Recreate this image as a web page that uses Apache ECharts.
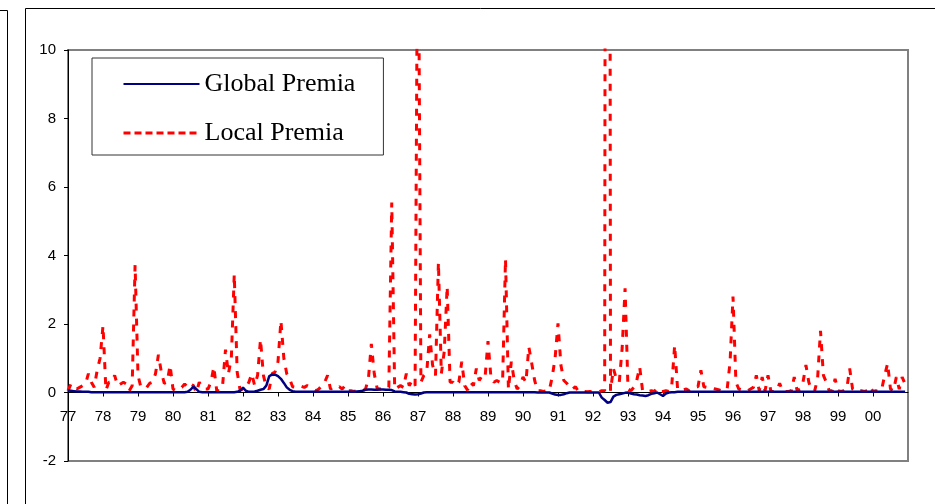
<!DOCTYPE html>
<html><head><meta charset="utf-8">
<script src="https://cdn.jsdelivr.net/npm/echarts@6/dist/echarts.min.js"></script>
<style>html,body{margin:0;padding:0;background:#fff}#c{width:935px;height:504px}</style>
</head><body><div id="c"></div>
<script>
// ---- data ----
const startYear = 1977;
const endYear = 2001;
const yearLabels = ['77','78','79','80','81','82','83','84','85','86','87','88','89','90','91','92','93','94','95','96','97','98','99','00'];
const seriesNames = ['Global Premia', 'Local Premia'];
const yMin = -2, yMax = 10, yStep = 2;

// monthly values, Jan 1977 .. Dec 2000 (one row per year)
const globalPremia = [
  0.06,0.05,0.04,0.03,0.03,0.02,0.02,0.02,0.01,0.01,0.01,0.01,
  0.01,0.01,0.01,0.01,0.01,0.01,0.01,0.01,0.01,0.01,0.01,0.01,
  0.01,0.01,0.01,0.01,0.01,0.01,0.01,0.01,0.01,0.01,0.01,0.01,
  0.01,0.01,0.01,0.01,0.01,0.02,0.08,0.17,0.10,0.02,0.01,0.01,
  0.01,0.01,0.01,0.01,0.01,0.01,0.01,0.01,0.01,0.01,0.02,0.05,
  0.14,0.05,0.02,0.02,0.03,0.05,0.08,0.10,0.20,0.48,0.52,0.52,
  0.48,0.40,0.28,0.15,0.08,0.04,0.02,0.02,0.02,0.02,0.02,0.02,
  0.02,0.02,0.02,0.02,0.02,0.02,0.02,0.02,0.02,0.02,0.02,0.02,
  0.02,0.02,0.02,0.03,0.04,0.05,0.08,0.09,0.09,0.08,0.08,0.09,
  0.09,0.08,0.08,0.07,0.03,0.02,0.02,0.01,0.00,-0.04,-0.05,-0.06,
  -0.05,-0.03,0.00,0.01,0.01,0.01,0.01,0.01,0.01,0.01,0.01,0.01,
  0.01,0.01,0.01,0.01,0.01,0.01,0.01,0.01,0.01,0.01,0.01,0.01,
  0.01,0.01,0.01,0.01,0.01,0.01,0.01,0.01,0.01,0.01,0.01,0.01,
  0.01,0.01,0.01,0.01,0.01,0.00,0.00,0.00,0.00,0.00,-0.03,-0.06,
  -0.07,-0.07,-0.05,-0.02,0.00,0.00,0.00,0.00,0.00,0.00,0.00,0.00,
  0.00,0.00,0.00,-0.15,-0.22,-0.30,-0.28,-0.12,-0.07,-0.05,-0.03,-0.01,
  0.00,-0.03,-0.05,-0.06,-0.08,-0.09,-0.10,-0.08,-0.04,-0.02,0.00,-0.05,
  -0.10,-0.03,0.00,0.01,0.01,0.02,0.02,0.02,0.02,0.02,0.02,0.02,
  0.02,0.02,0.02,0.02,0.02,0.02,0.02,0.02,0.02,0.02,0.02,0.02,
  0.02,0.02,0.02,0.02,0.02,0.02,0.02,0.02,0.02,0.02,0.02,0.02,
  0.02,0.02,0.02,0.02,0.02,0.02,0.02,0.02,0.02,0.02,0.02,0.02,
  0.02,0.02,0.02,0.02,0.02,0.02,0.02,0.02,0.02,0.02,0.02,0.02,
  0.02,0.02,0.02,0.02,0.02,0.02,0.02,0.02,0.02,0.02,0.02,0.02,
  0.02,0.02,0.02,0.02,0.02,0.02,0.02,0.02,0.02,0.02,0.02,0.02
];
const localPremia = [
  0.05,0.25,0.15,0.10,0.15,0.20,0.25,0.55,0.30,0.15,0.65,1.00,
  1.95,0.07,0.30,0.30,0.50,0.20,0.25,0.30,0.25,0.05,0.20,3.72,
  0.50,0.15,0.15,0.15,0.27,0.30,0.55,1.10,0.60,0.27,0.30,0.80,
  0.10,0.05,0.10,0.15,0.25,0.15,0.25,0.20,0.00,0.30,0.15,0.10,
  0.10,0.30,0.75,0.05,0.05,0.20,1.25,0.55,1.00,3.45,0.60,0.07,
  0.10,0.15,0.30,0.55,0.20,0.50,1.55,0.50,0.15,0.10,0.55,0.60,
  0.90,2.10,1.00,0.55,0.40,0.17,0.15,0.20,0.18,0.15,0.20,0.15,
  0.10,0.05,0.10,0.20,0.30,0.50,0.10,0.15,0.12,0.17,0.10,0.20,
  0.05,0.05,0.03,0.05,0.05,0.05,0.10,0.40,1.42,0.55,0.12,0.10,
  0.10,0.10,0.15,5.55,0.10,0.15,0.20,0.15,0.55,0.20,0.35,0.20,
  16.0,0.30,0.50,0.60,1.70,0.80,0.50,3.80,0.55,1.20,3.10,0.30,
  0.30,0.20,0.30,0.90,0.20,0.07,0.30,0.20,0.70,0.35,0.50,0.45,
  1.50,0.45,0.30,0.35,0.30,0.30,3.90,0.10,0.90,0.35,0.10,0.20,
  0.45,0.30,1.33,0.85,0.35,0.05,0.05,0.03,0.05,0.05,0.45,1.00,
  2.02,0.80,0.35,0.27,0.12,0.10,0.17,0.03,0.02,0.03,0.02,0.03,
  0.02,0.03,0.02,0.05,0.05,80.0,0.05,0.70,0.40,0.30,1.30,3.04,
  0.10,0.05,0.15,0.35,0.75,0.05,0.03,0.03,0.05,0.03,0.12,0.03,
  0.03,0.05,0.03,0.20,1.38,0.10,0.05,0.08,0.10,0.05,0.12,0.17,
  0.17,0.65,0.17,0.15,0.10,0.12,0.10,0.08,0.05,0.05,0.10,0.90,
  2.80,0.30,0.10,0.08,0.10,0.05,0.10,0.15,0.50,0.05,0.45,0.05,
  0.50,0.03,0.03,0.05,0.27,0.03,0.03,0.03,0.05,0.45,0.05,0.10,
  0.30,0.80,0.30,0.05,0.05,0.40,1.80,0.50,0.30,0.05,0.05,0.40,
  0.05,0.03,0.05,0.10,0.70,0.10,0.03,0.03,0.05,0.03,0.05,0.17,
  0.03,0.05,0.03,0.10,0.50,0.85,0.10,0.05,0.45,0.10,0.45,0.25
];

// ---- chart ----
const gridTop = 50, gridBottom = 43, chartH = 504;
const gridH = chartH - gridTop - gridBottom;
// place the category axis on the zero line of the value axis
const xAxisOffset = -gridH * (0 - yMin) / (yMax - yMin);
const toPairs = arr => arr.map((v, i) => [startYear + i / 12, v]);
const chart = echarts.init(document.getElementById('c'), null, {renderer: 'canvas'});
const axisFont = {fontFamily: 'Liberation Sans, Arial, sans-serif', fontSize: 15, color: '#000'};

chart.setOption({
  animation: false,
  backgroundColor: '#fff',
  graphic: [
    {type: 'polyline', shape: {points: [[0, 10.5], [7.5, 10.5], [7.5, 504]]}, style: {stroke: '#000', lineWidth: 1, fill: null}, silent: true},
    {type: 'rect', shape: {x: 25.5, y: 8.5, width: 1000, height: 1000}, style: {stroke: '#000', lineWidth: 1, fill: null}, silent: true}
  ],
  grid: {left: 68, top: gridTop, right: 27, bottom: gridBottom, show: true, borderColor: '#808080', borderWidth: 2, backgroundColor: 'transparent'},
  legend: {
    orient: 'vertical', left: 92, top: 58,
    padding: [13, 28, 9, 30],
    itemWidth: 76, itemHeight: 24, itemGap: 23,
    borderColor: '#333', borderWidth: 1, backgroundColor: '#fff',
    selectedMode: false,
    itemStyle: {color: 'transparent', borderColor: 'transparent', borderWidth: 0, opacity: 0},
    textStyle: {fontFamily: 'Liberation Serif, Times New Roman, serif', fontSize: 26, color: '#000', lineHeight: 24},
    data: [
      {name: seriesNames[0]},
      {name: seriesNames[1], lineStyle: {type: [7, 4], width: 3, color: '#ff0000'}}
    ]
  },
  xAxis: {
    type: 'value', min: startYear, max: endYear, interval: 1,
    offset: xAxisOffset,
    axisLine: {onZero: false, lineStyle: {color: '#000', width: 1}},
    axisTick: {show: true, inside: false, length: 4, lineStyle: {color: '#000'}},
    axisLabel: Object.assign({margin: 17, showMaxLabel: false, formatter: v => yearLabels[Math.round(v - startYear)] || ''}, axisFont),
    splitLine: {show: false}
  },
  yAxis: {
    type: 'value', min: yMin, max: yMax, interval: yStep,
    axisLine: {show: true, lineStyle: {color: '#000', width: 1}},
    axisTick: {show: true, inside: false, length: 4, lineStyle: {color: '#000'}},
    axisLabel: Object.assign({margin: 12}, axisFont),
    splitLine: {show: false}
  },
  series: [
    {
      name: seriesNames[0], type: 'line', data: toPairs(globalPremia),
      showSymbol: false, symbol: 'none', clip: true, z: 3,
      lineStyle: {color: '#000080', width: 2.5},
      itemStyle: {color: '#000080'}
    },
    {
      name: seriesNames[1], type: 'line', data: toPairs(localPremia),
      showSymbol: false, symbol: 'none', clip: true, z: 2,
      lineStyle: {color: '#ff0000', width: 3, type: [7, 8]},
      itemStyle: {color: '#ff0000'}
    }
  ]
});
</script>
</body></html>
